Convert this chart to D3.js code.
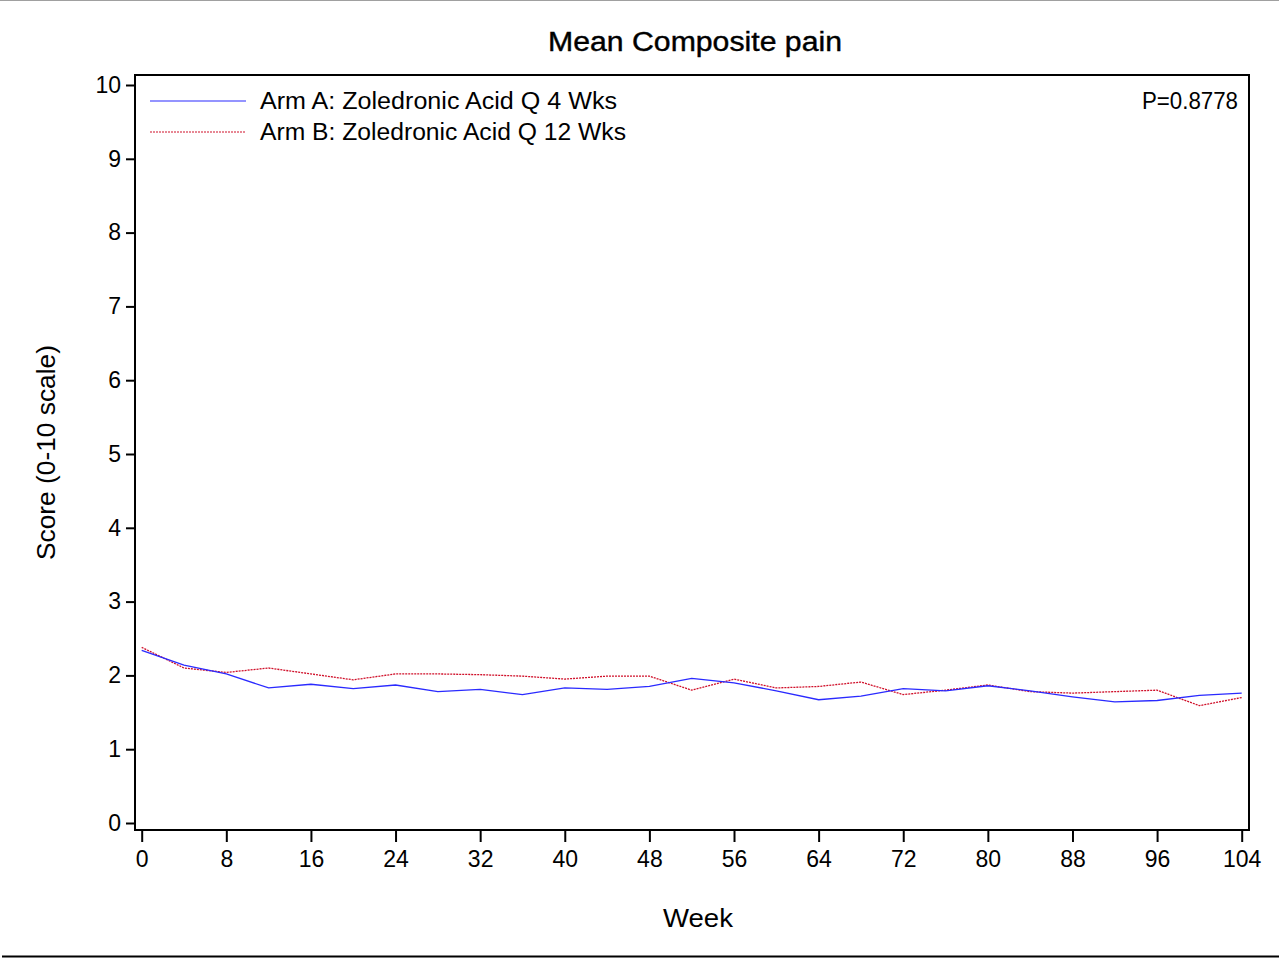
<!DOCTYPE html>
<html>
<head>
<meta charset="utf-8">
<script src="https://cdn.jsdelivr.net/npm/d3@7"></script>
<style>
  html, body { margin: 0; padding: 0; background: #fff; }
  svg { display: block; font-family: "Liberation Sans", Arial, sans-serif; }
</style>
</head>
<body>
<div id="chart"></div>
<script>
// weeks of assessment
const weeks = [0, 4, 8, 12, 16, 20, 24, 28, 32, 36, 40, 44, 48, 52, 56, 60, 64, 68, 72, 76, 80, 84, 88, 92, 96, 100, 104];
// mean composite pain
const armA = [2.34, 2.14, 2.02, 1.83, 1.88, 1.82, 1.87, 1.78, 1.81, 1.74, 1.83, 1.81, 1.85, 1.96, 1.90, 1.79, 1.67, 1.72, 1.82, 1.79, 1.86, 1.79, 1.71, 1.64, 1.66, 1.73, 1.76];
const armB = [2.38, 2.10, 2.04, 2.10, 2.02, 1.94, 2.02, 2.02, 2.01, 1.99, 1.95, 1.99, 1.99, 1.80, 1.95, 1.83, 1.85, 1.91, 1.74, 1.80, 1.87, 1.78, 1.76, 1.78, 1.80, 1.59, 1.70];
const xTicks = d3.range(0, 105, 8);
const yTicks = d3.range(0, 11, 1);
const seriesNames = ["Arm A: Zoledronic Acid Q 4 Wks", "Arm B: Zoledronic Acid Q 12 Wks"];
const pValue = "P=0.8778";

const W = 1279, H = 958;
const frame = { left: 135, right: 1249, top: 75, bottom: 830 };

const svg = d3.select("#chart").append("svg")
    .attr("width", W).attr("height", H);

// page rules top and bottom
svg.append("line").attr("x1", 0).attr("x2", W).attr("y1", 0.5).attr("y2", 0.5)
    .attr("stroke", "#a0a0a0").attr("stroke-width", 1);
svg.append("line").attr("x1", 2).attr("x2", W).attr("y1", 956.5).attr("y2", 956.5)
    .attr("stroke", "#000").attr("stroke-width", 2);

const x = d3.scaleLinear().domain([0, 104]).range([141.7, 1241.7]);
const y = d3.scaleLinear().domain([0, 10]).range([823, 85]);

// frame
svg.append("rect")
    .attr("x", frame.left).attr("y", frame.top)
    .attr("width", frame.right - frame.left).attr("height", frame.bottom - frame.top)
    .attr("fill", "none").attr("stroke", "#000").attr("stroke-width", 2);

// y axis
const yAxis = svg.append("g")
    .attr("transform", `translate(${frame.left},0)`)
    .call(d3.axisLeft(y).tickValues(yTicks).tickSize(9).tickPadding(5));
yAxis.select(".domain").remove();
yAxis.selectAll("line").attr("stroke-width", 2);
yAxis.selectAll("text").attr("font-size", 23).attr("font-family", "Liberation Sans, Arial, sans-serif").attr("fill", "#000");

// x axis
const xAxis = svg.append("g")
    .attr("transform", `translate(0,${frame.bottom})`)
    .call(d3.axisBottom(x).tickValues(xTicks).tickSize(12).tickPadding(9));
xAxis.select(".domain").remove();
xAxis.selectAll("line").attr("stroke-width", 2);
xAxis.selectAll("text").attr("font-size", 23).attr("font-family", "Liberation Sans, Arial, sans-serif").attr("fill", "#000");

// titles (SAS fonts run wider than Liberation, so stretch to the measured widths)
svg.append("text").attr("x", 548).attr("y", 51)
    .attr("font-size", 27).attr("stroke", "#000").attr("stroke-width", 0.4)
    .attr("textLength", 294).attr("lengthAdjust", "spacingAndGlyphs")
    .text("Mean Composite pain");
svg.append("text").attr("x", 663).attr("y", 927)
    .attr("font-size", 26)
    .attr("textLength", 70).attr("lengthAdjust", "spacingAndGlyphs")
    .text("Week");
svg.append("text")
    .attr("transform", "translate(55,560) rotate(-90)")
    .attr("font-size", 26)
    .attr("textLength", 215).attr("lengthAdjust", "spacingAndGlyphs")
    .text("Score (0-10 scale)");

// lines
const line = d3.line().x((d, i) => x(weeks[i])).y(d => y(d));
svg.append("path").datum(armB)
    .attr("fill", "none").attr("stroke", "#d0102a").attr("stroke-width", 1.3)
    .attr("stroke-dasharray", "2,1").attr("d", line);
svg.append("path").datum(armA)
    .attr("fill", "none").attr("stroke", "#2a2aff").attr("stroke-width", 1.3)
    .attr("d", line);

// legend
const legendStyles = [
    { stroke: "#2a2aff", dash: null, width: 357 },
    { stroke: "#d0102a", dash: "2,1", width: 366 }
];
const legend = svg.append("g");
seriesNames.forEach((name, i) => {
    const ly = 101 + i * 31;
    legend.append("line")
        .attr("x1", 150).attr("x2", 246).attr("y1", ly).attr("y2", ly)
        .attr("stroke", legendStyles[i].stroke).attr("stroke-width", 1.2)
        .attr("stroke-dasharray", legendStyles[i].dash);
    legend.append("text").attr("x", 260).attr("y", ly + 8)
        .attr("font-size", 23)
        .attr("textLength", legendStyles[i].width).attr("lengthAdjust", "spacingAndGlyphs")
        .text(name);
});
svg.append("text").attr("x", 1142).attr("y", 109)
    .attr("font-size", 23)
    .attr("textLength", 96).attr("lengthAdjust", "spacingAndGlyphs")
    .text(pValue);
</script>
</body>
</html>
